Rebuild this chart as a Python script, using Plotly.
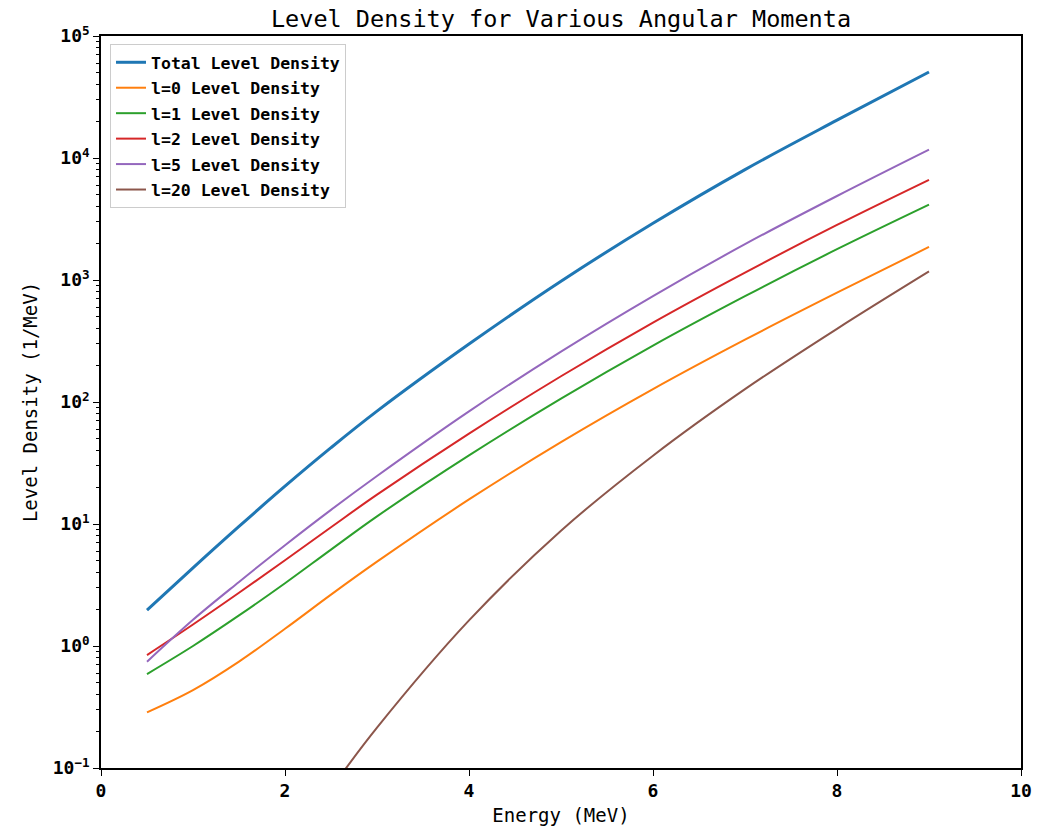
import plotly.graph_objects as go

energy = [0.5, 1.0, 1.5, 2.0, 2.5, 3.0, 4.0, 5.0, 6.0, 7.0, 8.0, 9.0]
total = [1.97, 4.37, 9.55, 20.4, 42.2, 84.1, 298.5, 977, 2917, 8035, 20417, 50700]
l0 = [0.286, 0.435, 0.745, 1.384, 2.636, 4.91, 15.89, 46.9, 127.6, 324.3, 787, 1866]
l1 = [0.589, 1.0, 1.78, 3.27, 6.17, 11.55, 36.5, 106.5, 290, 737, 1788, 4146]
l2 = [0.843, 1.50, 2.73, 5.05, 9.41, 17.4, 55.1, 162.6, 448, 1151, 2825, 6622]
l5 = [0.743, 1.64, 3.35, 6.70, 13.06, 24.75, 83.8, 259, 739, 1966, 4881, 11710]
energy_l20 = [2.5, 3.0, 4.0, 5.0, 6.0, 7.0, 8.0, 9.0]
l20 = [0.0676, 0.214, 1.62, 8.81, 36.3, 127.4, 398, 1175]

names = ["Total Level Density", "l=0 Level Density", "l=1 Level Density",
         "l=2 Level Density", "l=5 Level Density", "l=20 Level Density"]
colors = ["#1f77b4", "#ff7f0e", "#2ca02c", "#d62728", "#9467bd", "#8c564b"]
widths = [3, 2, 2, 2, 2, 2]

x_ticks = [0, 2, 4, 6, 8, 10]
y_ticks = [0.1, 1, 10, 100, 1000, 10000, 100000]
y_ticktext = ["10<sup>\u22121</sup>", "10<sup>0</sup>", "10<sup>1</sup>", "10<sup>2</sup>",
              "10<sup>3</sup>", "10<sup>4</sup>", "10<sup>5</sup>"]

series = [(energy, total), (energy, l0), (energy, l1), (energy, l2), (energy, l5), (energy_l20, l20)]

FONT = "DejaVu Sans Mono"
W, H = 1051, 826

fig = go.Figure()
for i, ((xs, ys), name, col, w) in enumerate(zip(series, names, colors, widths)):
    fig.add_trace(go.Scatter(
        x=xs, y=ys, mode="lines", name=name, legendgroup=f"g{i}",
        line=dict(color=col, width=w, shape="spline", smoothing=1.0),
    ))

minor_vals = [m * 10 ** d for d in range(-1, 5) for m in range(2, 10)]

fig.update_layout(
    width=W, height=H,
    paper_bgcolor="white", plot_bgcolor="white",
    margin=dict(l=101, r=30, t=36, b=58),
    title=dict(text="Level Density for Various Angular Momenta", x=561 / W, xanchor="center",
               y=1 - 19 / H, yanchor="middle", yref="container",
               font=dict(family=FONT, size=23.5, color="black")),
    font=dict(family=FONT, color="black"),
    legend=dict(x=0.0098, y=0.989, xanchor="left", yanchor="top",
                bgcolor="rgba(255,255,255,0.8)", bordercolor="#cccccc", borderwidth=1,
                font=dict(family=FONT, size=16.5, color="black", weight="bold"),
                tracegroupgap=1),
    showlegend=True,
)

fig.update_xaxes(
    range=[0, 10], tickvals=x_ticks, ticks="outside", ticklen=6, tickwidth=1.3,
    tickcolor="black", showgrid=False, zeroline=False, showline=True, linecolor="black",
    linewidth=1.5, mirror=True, automargin=False,
    tickfont=dict(family=FONT, size=18, color="black", weight="bold"),
    title=dict(text="Energy (MeV)", font=dict(family=FONT, size=19, color="black"), standoff=8),
)
fig.update_yaxes(
    type="log", range=[-1, 5], tickvals=y_ticks, ticktext=y_ticktext,
    ticks="outside", ticklen=6, tickwidth=1.3, tickcolor="black",
    showgrid=False, zeroline=False, showline=True, linecolor="black", linewidth=1.5, mirror=True,
    automargin=False,
    tickfont=dict(family=FONT, size=18, color="black", weight="bold"),
    minor=dict(tickvals=minor_vals, ticks="outside", ticklen=3.5, tickwidth=1, tickcolor="black",
               showgrid=False),
    title=dict(text="Level Density (1/MeV)", font=dict(family=FONT, size=19, color="black"), standoff=10),
)

# remove the browser's default 8px body margin so the figure fills the window exactly
fig.write_html("out.html", config={"displayModeBar": False},
               post_script="document.body.style.margin='0';")
